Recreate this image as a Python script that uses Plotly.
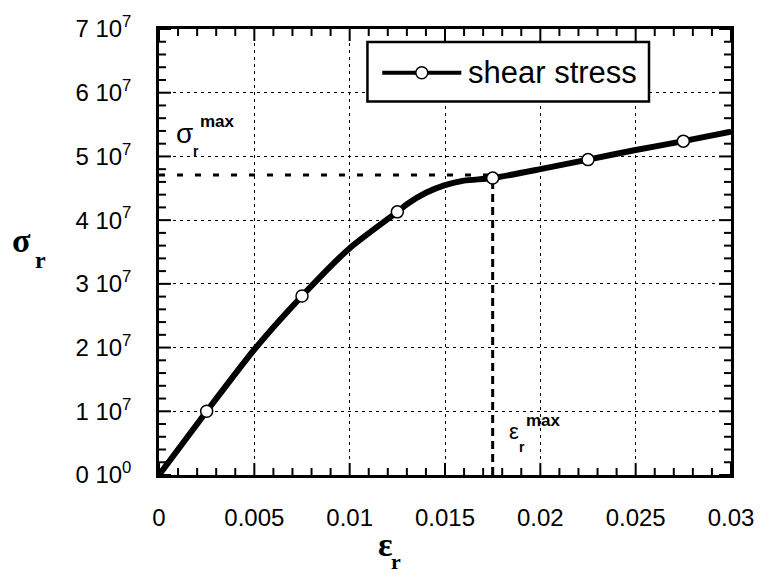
import plotly.graph_objects as go

# ---- data ----
curve_strain = [0.0, 0.0025, 0.005, 0.0075, 0.01, 0.0125, 0.013, 0.014, 0.015, 0.016,
                0.0175, 0.02, 0.0225, 0.025, 0.0275, 0.03]
curve_stress = [0.0, 1.00e7, 1.97e7, 2.81e7, 3.56e7, 4.13e7, 4.25e7, 4.43e7, 4.55e7, 4.62e7,
                4.66e7, 4.80e7, 4.95e7, 5.10e7, 5.24e7, 5.39e7]
marker_strain = [0.0025, 0.0075, 0.0125, 0.0175, 0.0225, 0.0275]
marker_stress = [1.00e7, 2.81e7, 4.13e7, 4.66e7, 4.95e7, 5.24e7]
eps_max = 0.0175
sigma_max = 4.71e7
x_range = [0, 0.03]
y_range = [0, 7e7]
x_major, x_minor_per = 0.005, 5      # 0.001 minor steps
y_major, y_minor_per = 1e7, 5        # 2e6 minor steps
y_tick_alias = {"0": "0 10<sup>0</sup>"}
for i in range(1, 8):
    y_tick_alias[str(i * 10000000)] = f"{i} 10<sup>7</sup>"
series_name = "shear stress"

# ---- layout geometry (pixels) ----
W, H = 766, 574
L, R, T, B = 159, 738, 26, 475
MAJOR_LEN, MINOR_LEN = 12, 7

def px(xp):
    return (xp - L) / (R - L)

def py(yp):
    return (B - yp) / (B - T)

fig = go.Figure()

# dashed guide lines
fig.add_trace(go.Scatter(x=[0, eps_max], y=[sigma_max, sigma_max], mode="lines",
                         line=dict(color="black", width=3, dash="6px,12px"),
                         showlegend=False, hoverinfo="skip"))
fig.add_trace(go.Scatter(x=[eps_max, eps_max], y=[0, marker_stress[3]], mode="lines",
                         line=dict(color="black", width=3, dash="8px,5px"),
                         showlegend=False, hoverinfo="skip"))

# main curve
fig.add_trace(go.Scatter(x=curve_strain, y=curve_stress, mode="lines",
                         line=dict(color="black", width=6, shape="spline", smoothing=0.6),
                         name=series_name, showlegend=False))
fig.add_trace(go.Scatter(x=marker_strain, y=marker_stress, mode="markers",
                         marker=dict(symbol="circle", size=12, color="white",
                                     line=dict(color="black", width=1.5)),
                         name=series_name, showlegend=False))

tickfont = dict(family="Liberation Sans, Arial, sans-serif", size=24, color="black")
main_common = dict(showline=True, linecolor="black", linewidth=2.5, mirror=True,
                   ticks="", showgrid=True, gridcolor="black", gridwidth=1,
                   griddash="3px,4px", zeroline=False, tickfont=tickfont)

fig.update_xaxes(range=x_range, tickmode="linear", tick0=0, dtick=x_major,
                 ticklabelstandoff=19, **main_common)
fig.update_yaxes(range=y_range, tickmode="linear", tick0=0, dtick=y_major, tickformat=".0f",
                 labelalias=y_tick_alias, ticklabelstandoff=20, **main_common)

shapes = []

# inward tick marks on all four sides, placed on the axes' own scales
tick_line = dict(color="black", width=2)
n_x = round((x_range[1] - x_range[0]) / x_major) * x_minor_per
for i in range(n_x + 1):
    v = x_range[0] + i * x_major / x_minor_per
    ln = MAJOR_LEN if i % x_minor_per == 0 else MINOR_LEN
    shapes.append(dict(type="line", xref="x", yref="paper", ysizemode="pixel",
                       yanchor=0, x0=v, x1=v, y0=0, y1=ln, line=tick_line, layer="above"))
    shapes.append(dict(type="line", xref="x", yref="paper", ysizemode="pixel",
                       yanchor=1, x0=v, x1=v, y0=-ln, y1=0, line=tick_line, layer="above"))
n_y = round((y_range[1] - y_range[0]) / y_major) * y_minor_per
for i in range(n_y + 1):
    v = y_range[0] + i * y_major / y_minor_per
    ln = MAJOR_LEN if i % y_minor_per == 0 else MINOR_LEN
    shapes.append(dict(type="line", xref="paper", yref="y", xsizemode="pixel",
                       xanchor=0, y0=v, y1=v, x0=0, x1=ln, line=tick_line, layer="above"))
    shapes.append(dict(type="line", xref="paper", yref="y", xsizemode="pixel",
                       xanchor=1, y0=v, y1=v, x0=-ln, x1=0, line=tick_line, layer="above"))

# legend box
shapes.append(dict(type="rect", xref="paper", yref="paper",
                   x0=px(370), x1=px(655), y0=py(99), y1=py(39),
                   line=dict(color="black", width=2.5), fillcolor="white", layer="above"))
shapes.append(dict(type="line", xref="paper", yref="paper",
                   x0=px(385), x1=px(465), y0=py(70), y1=py(70),
                   line=dict(color="black", width=4), layer="above"))
shapes.append(dict(type="circle", xref="paper", yref="paper",
                   xsizemode="pixel", ysizemode="pixel",
                   xanchor=px(425), yanchor=py(70), x0=-6, x1=6, y0=-6, y1=6,
                   line=dict(color="black", width=1.5), fillcolor="white", layer="above"))

sans = "Liberation Sans, Arial, sans-serif"
serif = "Liberation Serif, Times New Roman, serif"

def ann(text, xp, yp, size, family=sans, bold=False, xanchor="center"):
    t = f"<b>{text}</b>" if bold else text
    return dict(text=t, x=px(xp), y=py(yp), xref="paper", yref="paper",
                showarrow=False, xanchor=xanchor, yanchor="middle",
                font=dict(family=family, size=size, color="black"))

annotations = [
    ann(series_name, 470, 70, 31, xanchor="left"),
    # axis titles
    ann("σ", 20, 239, 34, family=serif, bold=True),
    ann("r", 39, 259, 24, family=serif, bold=True),
    ann("ε", 388, 545, 34, family=serif, bold=True),
    ann("r", 399, 562, 22, family=serif, bold=True),
    # sigma max label
    ann("σ", 185, 131, 28),
    ann("r", 196, 149, 14, bold=True),
    ann("max", 218, 119, 17, bold=True),
    # eps max label
    ann("ε", 518, 431, 22),
    ann("r", 526, 447, 14, bold=True),
    ann("max", 548, 420, 17, bold=True),
]

fig.update_layout(
    width=W, height=H,
    margin=dict(l=L, r=W - R, t=T, b=H - B),
    paper_bgcolor="white", plot_bgcolor="white",
    shapes=shapes, annotations=annotations,
    showlegend=False,
)

fig.write_html("out.html")
